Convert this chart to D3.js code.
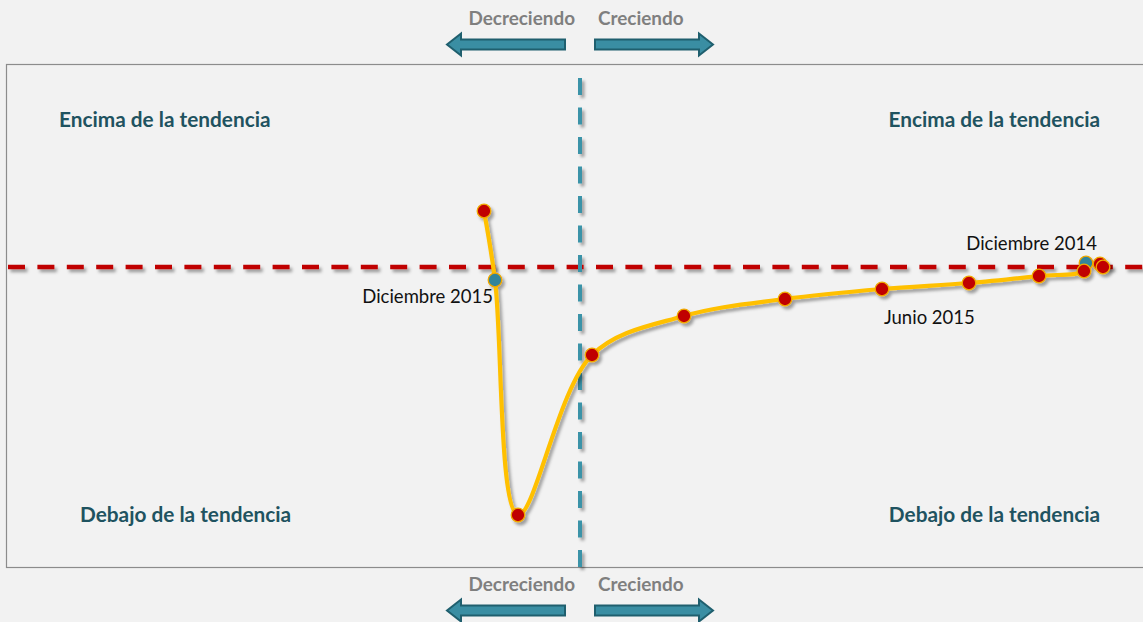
<!DOCTYPE html>
<html>
<head>
<meta charset="utf-8">
<script src="https://cdn.jsdelivr.net/npm/d3@7"></script>
<style>
  html, body { margin: 0; padding: 0; background: #f2f2f2; }
  svg { display: block; font-family: Lato, "Open Sans", sans-serif; }
</style>
</head>
<body>
<script>
// cycle clock: x = rate of change (growth), y = deviation from trend
let growth    = [1.040, 1.046, 1.012, 1.008, 0.918, 0.778, 0.604, 0.410, 0.208, 0.024, -0.124, -0.170, -0.192]
let deviation = [0.012, 0.000, 0.016, -0.016, -0.036, -0.064, -0.088, -0.128, -0.196, -0.352, -0.992, -0.052, 0.224]
let highlight = [false, false, true, false, false, false, false, false, false, false, false, true, false]

let pointLabels = [
  {index: 2,  text: 'Diciembre 2014', anchor: 'end',   dx: 11,  dy: -13},
  {index: 6,  text: 'Junio 2015',     anchor: 'start', dx: 2,   dy: 35},
  {index: 11, text: 'Diciembre 2015', anchor: 'end',   dx: -2,  dy: 23}
]

let quadrantLabels = ['Encima de la tendencia', 'Encima de la tendencia', 'Debajo de la tendencia', 'Debajo de la tendencia']
let directionLabels = ['Decreciendo', 'Creciendo']

let width = 1143
let height = 622

let box = {left: 6, top: 64, bottom: 567}

let x = d3.scaleLinear().domain([-1, 1]).range([80, 1080])
let y = d3.scaleLinear().domain([-1, 1]).range([517, 17])

let data = growth.map((g, i) => ({g: g, d: deviation[i], hi: highlight[i]}))

let svg = d3.select('body').append('svg')
    .attr('width', width)
    .attr('height', height)

let defs = svg.append('defs')
defs.append('filter')
    .attr('id', 'shadow')
    .attr('x', '-20%').attr('y', '-20%').attr('width', '140%').attr('height', '140%')
  .append('feDropShadow')
    .attr('dx', 2.5).attr('dy', 3)
    .attr('stdDeviation', 1.6)
    .attr('flood-color', '#000')
    .attr('flood-opacity', 0.35)

svg.append('rect')
    .attr('width', width).attr('height', height)
    .attr('fill', '#f2f2f2')

svg.append('rect')
    .attr('x', box.left + 0.5).attr('y', box.top + 0.5)
    .attr('width', width + 20).attr('height', box.bottom - box.top)
    .attr('fill', '#f2f2f2')
    .attr('stroke', '#8c8c8c')
    .attr('stroke-width', 1.2)

// reference lines
let refs = svg.append('g').attr('filter', 'url(#shadow)')

refs.append('line')
    .attr('x1', box.left + 2).attr('x2', width)
    .attr('y1', y(0)).attr('y2', y(0))
    .attr('stroke', '#c00000')
    .attr('stroke-width', 4.5)
    .attr('stroke-dasharray', '17,12.4')

refs.append('line')
    .attr('x1', x(0)).attr('x2', x(0))
    .attr('y1', 78).attr('y2', 572)
    .attr('stroke', '#3a93a8')
    .attr('stroke-width', 4)
    .attr('stroke-dasharray', '17,12.5')

// quadrant labels
let qPos = [
  {x: 59,   y: 127, anchor: 'start'},
  {x: 1100, y: 127, anchor: 'end'},
  {x: 80,   y: 522, anchor: 'start'},
  {x: 1100, y: 522, anchor: 'end'}
]
svg.selectAll('.quad')
    .data(quadrantLabels)
    .enter().append('text')
    .attr('class', 'quad')
    .attr('x', (d, i) => qPos[i].x)
    .attr('y', (d, i) => qPos[i].y)
    .attr('text-anchor', (d, i) => qPos[i].anchor)
    .attr('font-size', 20.8)
    .attr('font-weight', 'bold')
    .attr('fill', '#1f5360')
    .text(d => d)

// direction arrows, top and bottom
function arrow(g, x0, x1, cy, dir) {
  let head = 14, hh = 11, sh = 5
  let pts
  if (dir < 0) {
    pts = [[x0, cy], [x0 + head, cy - hh], [x0 + head, cy - sh], [x1, cy - sh],
           [x1, cy + sh], [x0 + head, cy + sh], [x0 + head, cy + hh]]
  } else {
    pts = [[x1, cy], [x1 - head, cy - hh], [x1 - head, cy - sh], [x0, cy - sh],
           [x0, cy + sh], [x1 - head, cy + sh], [x1 - head, cy + hh]]
  }
  g.append('polygon')
      .attr('points', pts.map(p => p.join(',')).join(' '))
      .attr('fill', '#3a8ea3')
      .attr('stroke', '#1f5f6e')
      .attr('stroke-width', 2)
}

;[{ty: 25, ay: 44.5}, {ty: 591, ay: 610.5}].forEach(p => {
  let g = svg.append('g')
  g.append('text')
      .attr('x', x(0) - 5).attr('y', p.ty)
      .attr('text-anchor', 'end')
      .attr('font-size', 18.9)
      .attr('font-weight', 'bold')
      .attr('fill', '#7f7f7f')
      .text(directionLabels[0])
  g.append('text')
      .attr('x', x(0) + 18).attr('y', p.ty)
      .attr('text-anchor', 'start')
      .attr('font-size', 18.9)
      .attr('font-weight', 'bold')
      .attr('fill', '#7f7f7f')
      .text(directionLabels[1])
  arrow(g, 447, 565, p.ay, -1)
  arrow(g, 595, 713, p.ay, 1)
})

// series
let line = d3.line()
    .x(d => x(d.g))
    .y(d => y(d.d))
    .curve(d3.curveCatmullRom.alpha(0.5))

let series = svg.append('g').attr('filter', 'url(#shadow)')

series.append('path')
    .datum(data)
    .attr('d', line)
    .attr('fill', 'none')
    .attr('stroke', '#ffc000')
    .attr('stroke-width', 4.2)
    .attr('stroke-linejoin', 'round')

series.selectAll('circle')
    .data(data)
    .enter().append('circle')
    .attr('cx', d => x(d.g))
    .attr('cy', d => y(d.d))
    .attr('r', 6.8)
    .attr('fill', d => d.hi ? '#31849b' : '#c00000')
    .attr('stroke', '#f0a800')
    .attr('stroke-width', 1.3)

svg.selectAll('.plabel')
    .data(pointLabels)
    .enter().append('text')
    .attr('class', 'plabel')
    .attr('x', d => x(data[d.index].g) + d.dx)
    .attr('y', d => y(data[d.index].d) + d.dy)
    .attr('text-anchor', d => d.anchor)
    .attr('font-size', 18.5)
    .attr('fill', '#111')
    .text(d => d.text)
</script>
</body>
</html>
